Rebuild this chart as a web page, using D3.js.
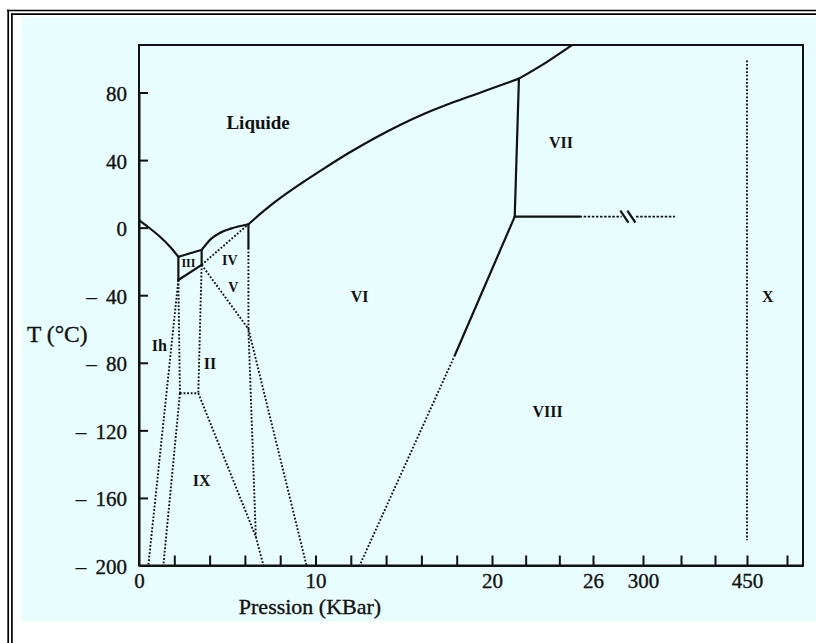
<!DOCTYPE html>
<html>
<head>
<meta charset="utf-8">
<script src="https://cdn.jsdelivr.net/npm/d3@7"></script>
<style>
  html, body { margin: 0; padding: 0; background: #ffffff; }
  svg { display: block; }
  text { font-family: "Liberation Serif", "Times New Roman", serif; fill: #111; }
</style>
</head>
<body>
<svg id="chart" width="816" height="643"></svg>
<script>
// ---------------- data (pressure in kbar, temperature in °C) ----------------
const tempTicks = [80, 40, 0, -40, -80, -120, -160, -200];
const pressureTicks = [0, 2, 4, 6, 8, 10, 12, 14, 16, 18, 20, 22, 24, 26, 300, 350, 400, 450, 500];
const pressureLabels = [0, 10, 20, 26, 300, 450];

// solid phase boundaries
const meltIh   = [[0, 4.5], [0.44, 1], [1.19, -5.4], [1.76, -11.3], [2.23, -17.3]];
const meltIII  = [[2.23, -17.3], [2.9, -15.2], [3.55, -13.2]];
const meltV    = [[3.55, -13.2], [4.1, -6.5], [4.6, -3], [5.2, -0.6], [6.2, 2]];
const meltVI   = [[6.2, 2], [6.97, 9], [7.82, 16.1], [9.12, 25.7], [10.54, 35.4], [11.95, 44.6], [13.37, 53.1],
                  [14.79, 60.8], [16.2, 67.6], [17.62, 73.5], [19.32, 79.9], [21.6, 88.2]];
const meltVII  = [[21.6, 88.2], [23.25, 98], [24.75, 108]];
const bIhIII   = [[2.23, -17.3], [2.23, -31]];
const bIIIV    = [[3.55, -13.2], [3.55, -22]];
const bIIIII   = [[2.23, -31], [3.55, -22]];
const bVVI     = [[6.2, 2], [6.2, -12]];
const bVIVII   = [[21.6, 88.2], [21.35, 6.5]];
const bVIIVIII = [[21.35, 6.5], [25.2, 6.5]];
const bVIVIII  = [[21.35, 6.5], [17.9, -75.4]];

// dotted (extrapolated / metastable) boundaries
const dVIVIII   = [[17.9, -75.4], [12.5, -200]];
const dVIIVIIIa = [[25.2, 6.5], [183, 6.5]];
const dVIIVIIIb = [[262, 6.5], [342, 6.5]];
const dX        = [[450, 99], [450, -185]];
const dIhLeft   = [[2.23, -31], [0.53, -200]];
const dIhII     = [[2.23, -31], [2.32, -98]];
const dIhIX     = [[2.32, -98], [1.38, -200]];
const dIIIX     = [[2.32, -98], [3.36, -98]];
const dIIV      = [[3.55, -22], [3.36, -98]];
const dIXVI     = [[3.36, -98], [6.62, -183], [7.05, -200]];
const dVVI      = [[6.2, -12], [6.2, -60], [6.62, -183]];
const dIV       = [[3.55, -22], [6.2, 2]];
const dIIVb     = [[3.55, -22], [6.2, -60]];
const dIIVI     = [[6.2, -60], [9.49, -200]];
const breakMark = [220, 6.5];

const phaseNames = ["Liquide", "VII", "III", "IV", "V", "VI", "X", "Ih", "II", "VIII", "IX"];
const phaseP     = [6.75, 24.1, 2.8, 5.15, 5.35, 12.5, 476, 1.15, 4.02, 23.3, 3.55];
const phaseT     = [62.5, 50.5, -21, -19.5, -35.3, -40.5, -40.5, -70, -80.3, -109, -149.4];
const phaseSize  = [20, 17, 13, 15, 15, 17, 17, 17, 17, 17, 17];

// ---------------- layout ----------------
const svg = d3.select("#chart");
const plotLeft = 139, plotRight = 803, plotTop = 45, plotBottom = 565.5;
const serif = '"Liberation Serif", "Times New Roman", serif';

const x = d3.scaleLinear()
  .domain([0, 20, 26, 300, 350, 400, 450, 500, 520])
  .range([139, 492, 593, 643, 681, 715, 747, 787, 803]);
const y = d3.scaleLinear().domain([-200, 80]).range([plotBottom, 92.5]);

// frame and background
svg.append("rect").attr("x", 21.5).attr("y", 16.5).attr("width", 816 - 21.5).attr("height", 621.5 - 16.5)
  .attr("fill", "#e8fdfd");
svg.append("line").attr("x1", 7).attr("x2", 816).attr("y1", 10.5).attr("y2", 10.5).attr("stroke", "#000").attr("stroke-width", 1.5);
svg.append("line").attr("x1", 11).attr("x2", 816).attr("y1", 14.2).attr("y2", 14.2).attr("stroke", "#000").attr("stroke-width", 1.7);
svg.append("line").attr("x1", 8.2).attr("x2", 8.2).attr("y1", 9.8).attr("y2", 643).attr("stroke", "#000").attr("stroke-width", 1.7);
svg.append("line").attr("x1", 11.9).attr("x2", 11.9).attr("y1", 13.4).attr("y2", 643).attr("stroke", "#000").attr("stroke-width", 1.7);

// plot box
svg.append("rect").attr("x", plotLeft).attr("y", plotTop).attr("width", plotRight - plotLeft).attr("height", plotBottom - plotTop)
  .attr("fill", "none").attr("stroke", "#111").attr("stroke-width", 2);

// axes
const yAxis = d3.axisLeft(y).tickValues(tempTicks).tickSize(-9).tickSizeOuter(0).tickPadding(12)
  .tickFormat(d => d < 0 ? "\u2013 " + Math.abs(d) : String(d));
const gy = svg.append("g").attr("transform", `translate(${plotLeft},0)`).call(yAxis);
gy.select(".domain").attr("stroke", "#111").attr("stroke-width", 2);
gy.selectAll(".tick line").attr("stroke", "#111").attr("stroke-width", 2);
gy.selectAll(".tick").filter(d => d === -200).select("line").remove();
gy.selectAll(".tick text").attr("font-size", 21).attr("dy", "0.38em").attr("fill", "#111")
  .style("word-spacing", "4px")
  .attr("stroke", "#111").attr("stroke-width", 0.35)
  .style("font-family", serif);

const xAxis = d3.axisBottom(x).tickValues(pressureTicks).tickSize(-10).tickSizeOuter(0).tickPadding(8)
  .tickFormat(d => pressureLabels.includes(d) ? String(d) : "");
const gx = svg.append("g").attr("transform", `translate(0,${plotBottom})`).call(xAxis);
gx.select(".domain").attr("stroke", "#111").attr("stroke-width", 2);
gx.selectAll(".tick line").attr("stroke", "#111").attr("stroke-width", 2);
gx.selectAll(".tick").filter(d => d === 0).select("line").remove();
gx.selectAll(".tick text").attr("font-size", 21).attr("fill", "#111")
  .attr("stroke", "#111").attr("stroke-width", 0.35)
  .style("font-family", serif);

// axis titles
svg.append("text").attr("x", 27).attr("y", 342).attr("font-size", 23.5)
  .attr("stroke", "#111").attr("stroke-width", 0.35).text("T (°C)");
svg.append("text").attr("x", 310).attr("y", 614).attr("text-anchor", "middle").attr("font-size", 22)
  .attr("stroke", "#111").attr("stroke-width", 0.35).text("Pression (KBar)");

// phase boundaries
const line = d3.line().x(d => x(d[0])).y(d => y(d[1]));
const curve = d3.line().x(d => x(d[0])).y(d => y(d[1])).curve(d3.curveMonotoneX);

const g = svg.append("g").attr("fill", "none").attr("stroke", "#111");

[meltIh, meltIII, meltV, meltVI, meltVII].forEach(d =>
  g.append("path").attr("d", curve(d)).attr("stroke-width", 2.2).attr("stroke-linejoin", "round"));
[bIhIII, bIIIV, bIIIII, bVVI, bVIVII, bVIIVIII, bVIVIII].forEach(d =>
  g.append("path").attr("d", line(d)).attr("stroke-width", 2.2).attr("stroke-linecap", "round"));

[dVIVIII, dX, dIhLeft, dIhII, dIhIX, dIIIX, dIIV, dIXVI, dVVI, dIV, dIIVb, dIIVI].forEach(d =>
  g.append("path").attr("d", line(d)).attr("stroke-width", 1.9).attr("stroke-dasharray", "1.8,1.8"));
[dVIIVIIIa, dVIIVIIIb].forEach(d =>
  g.append("path").attr("d", line(d)).attr("stroke-width", 1.8).attr("stroke-dasharray", "2.5,1.6"));

// axis-break mark on the VII/VIII boundary
const bx = x(breakMark[0]), by = y(breakMark[1]);
[-4, 3].forEach(off =>
  g.append("line").attr("x1", bx + off - 4).attr("y1", by - 6).attr("x2", bx + off + 4).attr("y2", by + 6)
    .attr("stroke-width", 2.2));

// phase labels
svg.append("g").selectAll("text").data(phaseNames).join("text")
  .attr("x", (d, i) => x(phaseP[i]))
  .attr("y", (d, i) => y(phaseT[i]))
  .attr("dy", "0.35em")
  .attr("text-anchor", "middle")
  .attr("font-size", (d, i) => phaseSize[i] - 1)
  .attr("font-weight", "bold")
  .text(d => d);
</script>
</body>
</html>
